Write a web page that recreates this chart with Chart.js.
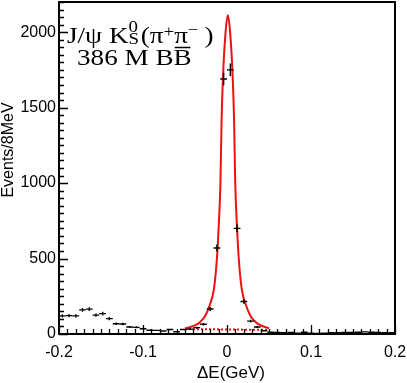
<!DOCTYPE html>
<html>
<head>
<meta charset="utf-8">
<script src="https://cdn.jsdelivr.net/npm/chart.js@4/dist/chart.umd.min.js"></script>
<style>
  html, body { margin: 0; padding: 0; background: #fff; }
  #wrap { width: 407px; height: 383px; }
</style>
</head>
<body>
<div id="wrap"><canvas id="chart" width="407" height="383"></canvas></div>
<script>
// bin centres of the Delta E histogram (8 MeV bins)
const binCenters = [
  -0.196, -0.188, -0.180, -0.172, -0.164, -0.156, -0.148, -0.140, -0.132, -0.124,
  -0.116, -0.108, -0.100, -0.092, -0.084, -0.076, -0.068, -0.060, -0.052, -0.044,
  -0.036, -0.028, -0.020, -0.012, -0.004, 0.004, 0.012, 0.020, 0.028, 0.036,
  0.044, 0.052, 0.060, 0.068, 0.076, 0.084, 0.092, 0.100, 0.108, 0.116,
  0.124, 0.132, 0.140, 0.148, 0.156, 0.164, 0.172, 0.180, 0.188, 0.196
];
const events = [
  120, 122, 120, 160, 165, 125, 135, 102, 68, 66,
  46, 44, 35, 25, 24, 20, 30, 15, 30, 32,
  42, 65, 166, 570, 1690, 1750, 700, 215, 85, 46,
  22, 12, 10, 8, 10, 5, 12, 6, 4, 6,
  8, 8, 10, 10, 12, 14, 12, 10, 8, 8
];
const binHalfWidth = 0.004;

// fit curve
const fitX = [-0.050, -0.044, -0.037, -0.032, -0.026, -0.020, -0.0155, -0.012, -0.010, -0.0078,
  -0.0065, -0.0048, -0.0017, 0.001, 0.0037, 0.0068, 0.0085, 0.0098, 0.012, 0.014,
  0.0175, 0.022, 0.028, 0.034, 0.039, 0.046, 0.050];
const fitY = [37, 45, 60, 80, 120, 200, 300, 500, 700, 1000,
  1400, 1700, 2000, 2113, 2000, 1700, 1400, 1000, 700, 500,
  300, 200, 120, 80, 60, 45, 38];

// background component (dotted)
const bgX = [-0.05, 0.05];
const bgY = [33, 27];

const xTicks = [-0.2, -0.1, 0, 0.1, 0.2];
const xTickLabels = ['-0.2', '-0.1', '0', '0.1', '0.2'];
const yTicks = [0, 500, 1000, 1500, 2000];
const yTickLabels = ['0', '500', '1000', '1500', '2000'];
const yMax = 2200;

const sansFont = '"Liberation Sans", Arial, sans-serif';
const serifFont = '"Liberation Serif", "Times New Roman", serif';

function noScalePadding(s) {
  s.paddingTop = 0;
  s.paddingBottom = 0;
  s.paddingLeft = 0;
  s.paddingRight = 0;
}

const histPlugin = {
  id: 'histPlugin',
  afterDatasetsDraw(chart) {
    const ctx = chart.ctx;
    const xs = chart.scales.x, ys = chart.scales.y;
    const meta = chart.getDatasetMeta(0);
    ctx.save();
    ctx.strokeStyle = '#000';
    ctx.lineWidth = 1.4;
    meta.data.forEach((pt, i) => {
      const n = events[i];
      const err = Math.sqrt(n);
      const hw = xs.getPixelForValue(binCenters[i] + binHalfWidth) - pt.x;
      const yTop = ys.getPixelForValue(Math.min(n + err, yMax));
      const yBot = ys.getPixelForValue(Math.max(n - err, 0));
      ctx.beginPath();
      ctx.moveTo(pt.x - hw, pt.y);
      ctx.lineTo(pt.x + hw, pt.y);
      ctx.moveTo(pt.x, yTop);
      ctx.lineTo(pt.x, yBot);
      ctx.stroke();
    });
    ctx.restore();
  },
  afterDraw(chart) {
    const ctx = chart.ctx;
    const a = chart.chartArea;
    const xs = chart.scales.x, ys = chart.scales.y;
    ctx.save();
    ctx.strokeStyle = '#000';

    // inward ticks
    ctx.lineWidth = 1.3;
    ctx.beginPath();
    for (let k = -20; k <= 20; k++) {
      const px = Math.round(xs.getPixelForValue(k / 100)) + 0.5;
      const len = k % 10 === 0 ? 9 : 5;
      ctx.moveTo(px, a.bottom);
      ctx.lineTo(px, a.bottom - len);
    }
    for (let k = 0; k <= yMax / 50; k++) {
      const py = Math.round(ys.getPixelForValue(k * 50)) + 0.5;
      const len = (k * 50) % 500 === 0 ? 9 : 5;
      ctx.moveTo(a.left, py);
      ctx.lineTo(a.left + len, py);
    }
    ctx.stroke();

    // frame
    ctx.lineWidth = 2;
    ctx.strokeRect(a.left, a.top, a.right - a.left, a.bottom - a.top);

    // axis titles
    ctx.fillStyle = '#000';
    ctx.font = '17px ' + sansFont;
    ctx.textAlign = 'center';
    ctx.textBaseline = 'middle';
    ctx.fillText('\u0394E(GeV)', 231, 373);
    ctx.save();
    ctx.translate(9, 150);
    ctx.rotate(-Math.PI / 2);
    ctx.font = '16px ' + sansFont;
    ctx.fillText('Events/8MeV', 0, 0);
    ctx.restore();

    // annotation
    ctx.textAlign = 'left';
    ctx.textBaseline = 'alphabetic';
    ctx.save();
    ctx.translate(67, 0);
    ctx.scale(1.18, 1);
    const big = '23px ' + serifFont, small = '16px ' + serifFont;
    let cx = 0;
    ctx.font = big;
    ctx.fillText('J/\u03C8 K', cx, 43);
    cx += ctx.measureText('J/\u03C8 K').width;
    ctx.font = small;
    ctx.fillText('0', cx, 32);
    ctx.fillText('S', cx, 44);
    cx += ctx.measureText('S').width + 1.5;
    ctx.font = big;
    ctx.fillText('(\u03C0', cx, 43);
    cx += ctx.measureText('(\u03C0').width;
    ctx.font = small;
    ctx.fillText('+', cx, 37);
    cx += ctx.measureText('+').width;
    ctx.font = big;
    ctx.fillText('\u03C0', cx, 43);
    cx += ctx.measureText('\u03C0').width;
    ctx.font = small;
    ctx.fillText('\u2212', cx, 35);
    cx += ctx.measureText('\u2212').width + 5;
    ctx.font = big;
    ctx.fillText(')', cx, 43);

    ctx.font = big;
    const line2 = '386 M B';
    const x2 = (77 - 67) / 1.18;
    ctx.fillText(line2, x2, 65);
    const bx = x2 + ctx.measureText(line2).width;
    ctx.fillText('B', bx, 65);
    const bw = ctx.measureText('B').width;
    ctx.lineWidth = 1.5;
    ctx.beginPath();
    ctx.moveTo(bx + 1, 47.5);
    ctx.lineTo(bx + bw - 1, 47.5);
    ctx.stroke();
    ctx.restore();

    ctx.restore();
  }
};

new Chart(document.getElementById('chart'), {
  type: 'scatter',
  data: {
    datasets: [
      {
        label: 'data',
        data: binCenters.map((x, i) => ({ x: x, y: events[i] })),
        pointRadius: 0,
        showLine: false
      },
      {
        label: 'fit',
        data: fitX.map((x, i) => ({ x: x, y: fitY[i] })),
        showLine: true,
        borderColor: '#ee1111',
        borderWidth: 2,
        pointRadius: 0,
        cubicInterpolationMode: 'monotone',
        fill: false
      },
      {
        label: 'background',
        data: bgX.map((x, i) => ({ x: x, y: bgY[i] })),
        showLine: true,
        borderColor: '#ee1111',
        borderWidth: 2,
        borderDash: [2, 2],
        pointRadius: 0,
        fill: false
      }
    ]
  },
  options: {
    responsive: false,
    animation: false,
    devicePixelRatio: 1,
    layout: { padding: { top: 2, right: 12, left: 0, bottom: 0 } },
    plugins: { legend: { display: false }, tooltip: { enabled: false } },
    scales: {
      x: {
        type: 'linear',
        min: -0.2,
        max: 0.2,
        afterBuildTicks: s => { s.ticks = xTicks.map(v => ({ value: v })); },
        afterFit: s => { s.height = 49; noScalePadding(s); },
        grid: { display: false, drawTicks: false },
        border: { display: false },
        ticks: {
          callback: (v, i) => xTickLabels[i],
          color: '#000',
          font: { family: sansFont, size: 16 },
          padding: 9,
          maxRotation: 0,
          autoSkip: false
        }
      },
      y: {
        type: 'linear',
        min: 0,
        max: yMax,
        afterBuildTicks: s => { s.ticks = yTicks.map(v => ({ value: v })); },
        afterFit: s => { s.width = 59; noScalePadding(s); },
        grid: { display: false, drawTicks: false },
        border: { display: false },
        ticks: {
          callback: (v, i) => yTickLabels[i],
          color: '#000',
          font: { family: sansFont, size: 16 },
          padding: 3,
          autoSkip: false
        }
      }
    }
  },
  plugins: [histPlugin]
});
</script>
</body>
</html>
